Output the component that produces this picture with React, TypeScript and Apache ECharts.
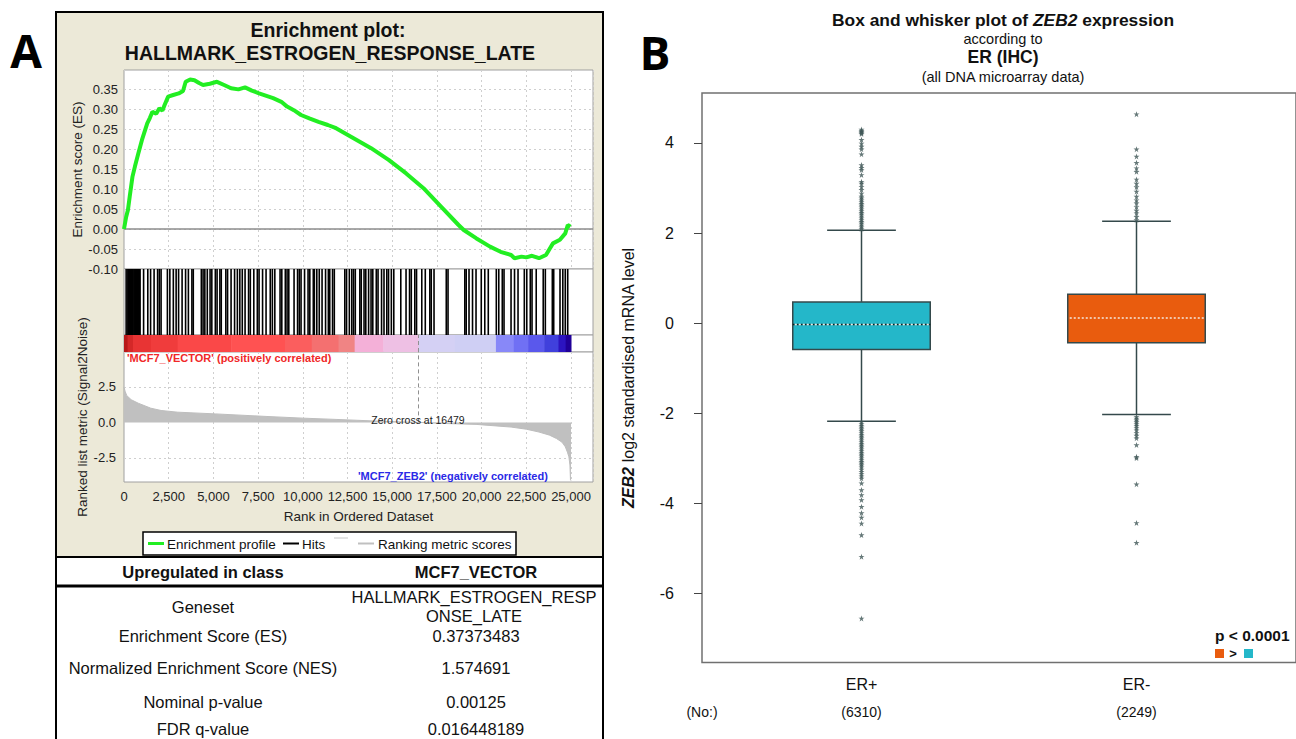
import { useEffect, useRef } from 'react';
import * as echarts from 'echarts';

const FONT = '"Liberation Sans", Arial, sans-serif';

// ---------- Panel A: GSEA enrichment plot ----------
const esRanks = [0, 120, 220, 320, 475, 610, 800, 1000, 1300, 1450, 1590, 1800, 1980, 2150, 2270, 2470, 2750, 3060, 3300, 3450, 3700, 3940, 4200, 4420, 4800, 5200, 5600, 5990, 6400, 6770, 7150, 7550, 8340, 8800, 9120, 9500, 9900, 10400, 10880, 11400, 11860, 12840, 13820, 14800, 15780, 16750, 17730, 18710, 19000, 19690, 20470, 21060, 21650, 21840, 22230, 22500, 22820, 23210, 23600, 23800, 23990, 24380, 24680, 24820, 24970];
const esValues = [0, 0.03, 0.0475, 0.081, 0.131, 0.156, 0.189, 0.222, 0.264, 0.278, 0.293, 0.288, 0.302, 0.296, 0.31, 0.331, 0.335, 0.339, 0.345, 0.368, 0.3737, 0.372, 0.365, 0.36, 0.363, 0.368, 0.36, 0.352, 0.349, 0.354, 0.346, 0.339, 0.327, 0.318, 0.306, 0.297, 0.285, 0.276, 0.268, 0.26, 0.252, 0.227, 0.202, 0.173, 0.139, 0.102, 0.056, 0.01, -0.0025, -0.023, -0.044, -0.057, -0.065, -0.073, -0.069, -0.071, -0.067, -0.073, -0.065, -0.05, -0.036, -0.027, -0.011, 0.01, 0.006];
const hitRanks = [120, 215, 260, 313, 360, 411, 460, 509, 560, 607, 650, 705, 750, 802, 850, 900, 1096, 1331, 1487, 1683, 1879, 1977, 2074, 2427, 2564, 2759, 2916, 3053, 3249, 3444, 3601, 3797, 3875, 4325, 4423, 4521, 4658, 4814, 4912, 5108, 5206, 5362, 5440, 5695, 5793, 5988, 6184, 6341, 6478, 6615, 6771, 6967, 7065, 7260, 7456, 7554, 7750, 7945, 8180, 8298, 8435, 8728, 8826, 9022, 9120, 9217, 9511, 9707, 9805, 9902, 10098, 10294, 10392, 10587, 10646, 10783, 10920, 11077, 11273, 11429, 11507, 11664, 11762, 12349, 12447, 12603, 12740, 12838, 12936, 13190, 13268, 13425, 13523, 13680, 13817, 13915, 14110, 14208, 14404, 14541, 14697, 14795, 14952, 15089, 15480, 15774, 15970, 16067, 16263, 16361, 16654, 16850, 17104, 17183, 17339, 18024, 18122, 19061, 19140, 19296, 19492, 19688, 19981, 20177, 20373, 20823, 20960, 21156, 21254, 21646, 21841, 22037, 22389, 22526, 22722, 22820, 23055, 23446, 23564, 23955, 24033, 24385, 24542, 24679, 24816];
const metricRanks = [0, 60, 150, 400, 800, 1500, 2074, 3000, 5100, 7945, 10000, 11860, 14000, 15770, 16479, 18000, 19690, 21650, 22500, 23210, 23800, 24190, 24500, 24680, 24800, 24880, 24940, 24970, 25000];
const metricValues = [2.5, 2.2, 1.9, 1.6, 1.35, 1.0, 0.84, 0.72, 0.6, 0.42, 0.3, 0.21, 0.1, 0.02, 0, -0.08, -0.14, -0.33, -0.48, -0.68, -0.9, -1.14, -1.4, -1.72, -2.1, -2.42, -3.0, -4.05, -4.1];
const colorBandEdges = [0, 200, 500, 1500, 3000, 6000, 9000, 10500, 12000, 12900, 14500, 16479, 18500, 20800, 21800, 22600, 23500, 24300, 24700, 25000];
const colorBandPalette = ['#b81818', '#d42828', '#e83434', '#f03c3c', '#fa4848', '#ff5252', '#fb5e5e', '#f47070', '#f08484', '#f4b0d8', '#eec0e4', '#d4d0f4', '#cfcff4', '#8888f8', '#7070f4', '#5a58ec', '#4040dc', '#2c14c0', '#200098'];
const zeroCross = 16479;
const rankMax = 26230;
const esMin = -0.1;
const esMax = 0.3975;
const metricMin = -4.2;
const metricMax = 4.96;
const metricTicks = [-2.5, 0, 2.5];

const tableHeader = ['Upregulated in class', 'MCF7_VECTOR'];
const tableRowLabels = ['Enrichment Score (ES)', 'Normalized Enrichment Score (NES)', 'Nominal p-value', 'FDR q-value'];
const tableRowValues = ['0.37373483', '1.574691', '0.00125', '0.016448189'];
const genesetName = ['HALLMARK_ESTROGEN_RESP', 'ONSE_LATE'];

// ---------- Panel B: box plot ----------
const groups = ['ER+', 'ER-'];
const groupCounts = [6310, 2249];
// [lower whisker, Q1, median, Q3, upper whisker]
const boxStats = [
  [-2.18, -0.59, -0.03, 0.47, 2.06],
  [-2.03, -0.44, 0.11, 0.64, 2.26],
];
const boxColors = ['#24b7c9', '#e95c0e'];
const outliersERpos = [4.3, 4.27, 4.25, 4.22, 4.2, 4.07, 3.99, 3.92, 3.86, 3.75, 3.51, 3.45, 3.4, 3.29, 3.14, 3.1, 3.03, 2.96, 2.88, 2.81, 2.77, 2.73, 2.69, 2.65, 2.61, 2.57, 2.53, 2.49, 2.45, 2.41, 2.37, 2.33, 2.29, 2.25, 2.21, 2.17, 2.13, 2.09,
  -2.2, -2.24, -2.28, -2.32, -2.36, -2.4, -2.44, -2.48, -2.52, -2.56, -2.6, -2.64, -2.68, -2.72, -2.76, -2.8, -2.84, -2.88, -2.92, -2.96, -3.0, -3.04, -3.08, -3.12, -3.16, -3.2, -3.25, -3.3, -3.35, -3.4, -3.45, -3.56, -3.71, -3.82, -3.93, -4.08, -4.22, -4.32, -4.45, -4.71, -5.19, -6.56];
const outliersERneg = [4.64, 3.86, 3.7, 3.56, 3.44, 3.36, 3.19, 3.1, 3.02, 2.92, 2.81, 2.73, 2.66, 2.58, 2.5, 2.44, 2.36, 2.29,
  -2.08, -2.12, -2.16, -2.2, -2.24, -2.28, -2.33, -2.38, -2.44, -2.5, -2.56, -2.71, -2.97, -3.0, -3.58, -4.44, -4.88];
const boxYTicks = [-6, -4, -2, 0, 2, 4];
const boxYMin = -7.54;
const boxYMax = 5.11;

const STAR = 'path://M5,0 L6.2,3.6 L10,3.6 L6.9,5.8 L8.1,9.5 L5,7.2 L1.9,9.5 L3.1,5.8 L0,3.6 L3.8,3.6 Z';

function txt(text: string, x: number, y: number, o: any = {}) {
  return {
    type: 'text', x, y, z: 50, silent: true, rotation: o.rotation || 0,
    style: {
      text, fontFamily: o.family || FONT, fontSize: o.size || 13,
      fontWeight: o.bold ? 'bold' : 'normal', fontStyle: o.italic ? 'italic' : 'normal',
      fill: o.color || '#111', align: o.align || 'center', verticalAlign: 'middle',
      rich: o.rich,
    },
  };
}
function seg(x1: number, y1: number, x2: number, y2: number, stroke: string, lineWidth: number, z = 50) {
  return { type: 'line', z, silent: true, shape: { x1, y1, x2, y2 }, style: { stroke, lineWidth } };
}

const fmtRank = (v: number) => (Math.abs(v % 2500) < 1e-6 && v <= 25000 ? v.toLocaleString('en-US') : '');
const fmtES = (v: number) => {
  const k = Math.round(v / 0.05);
  return Math.abs(v - k * 0.05) < 1e-6 ? (k * 0.05).toFixed(2) : '';
};

export default function App() {
  const ref = useRef<HTMLDivElement>(null);
  useEffect(() => {
    if (!ref.current) return;
    const chart = echarts.init(ref.current, null, { renderer: 'svg' });

    const gsGrid = (top: number, height: number) => ({
      left: 124, top, width: 469, height, show: true, backgroundColor: '#ffffff', borderColor: '#a0a0a0', borderWidth: 1,
    });
    const rankAxis = (gi: number, labels: boolean, split: boolean) => ({
      type: 'value', gridIndex: gi, min: 0, max: rankMax, interval: 2500,
      axisLine: { show: false }, axisTick: { show: false },
      axisLabel: { show: labels, formatter: fmtRank, color: '#222', fontSize: 13, fontFamily: FONT, margin: 8 },
      splitLine: { show: split, lineStyle: { type: [2, 3], color: '#cfcfcf', width: 1 } },
      name: labels ? 'Rank in Ordered Dataset' : '', nameLocation: 'middle', nameGap: 27,
      nameTextStyle: { color: '#222', fontSize: 13.5, fontFamily: FONT },
    });

    const legendItems: any[] = [
      { type: 'rect', z: 40, silent: true, shape: { x: 143, y: 532, width: 373, height: 23 }, style: { fill: '#ffffff', stroke: '#000', lineWidth: 1.5 } },
      seg(148, 543.5, 164, 543.5, '#22ee22', 3),
      txt('Enrichment profile', 167, 544, { size: 13.5, align: 'left' }),
      seg(283, 543.5, 299, 543.5, '#000', 2),
      txt('Hits', 302, 544, { size: 13.5, align: 'left' }),
      seg(334, 538, 348, 538, '#c8c8c8', 1),
      seg(358, 543.5, 374, 543.5, '#c0c0c0', 2),
      txt('Ranking metric scores', 378, 544, { size: 13.5, align: 'left' }),
    ];

    const tableEls: any[] = [
      { type: 'rect', z: 20, silent: true, shape: { x: 56, y: 557, width: 547, height: 200 }, style: { fill: '#ffffff', stroke: '#000', lineWidth: 2 } },
      seg(56, 586, 603, 586, '#000', 3),
      txt(tableHeader[0], 203, 572, { size: 16.5, bold: true }),
      txt(tableHeader[1], 476, 572, { size: 16.5, bold: true }),
      txt('Geneset', 203, 607, { size: 16.5 }),
      txt(genesetName[0], 474, 597, { size: 16.5 }),
      txt(genesetName[1], 474, 616, { size: 16.5 }),
    ];
    const rowY = [636, 668, 702, 729];
    tableRowLabels.forEach((l, i) => {
      tableEls.push(txt(l, 203, rowY[i], { size: 16.5 }));
      tableEls.push(txt(tableRowValues[i], 476, rowY[i], { size: 16.5 }));
    });

    const graphic: any[] = [
      { type: 'rect', z: -10, silent: true, shape: { x: 56, y: 12, width: 547, height: 545 }, style: { fill: '#ece9d8', stroke: '#000', lineWidth: 2 } },
      txt('A', 26, 50, { size: 46, bold: true, family: '"Open Sans", sans-serif', color: '#000' }),
      txt('B', 655, 52, { size: 46, bold: true, family: '"Open Sans", sans-serif', color: '#000' }),
      txt('Enrichment plot:', 328, 30, { size: 19.5, bold: true }),
      txt('HALLMARK_ESTROGEN_RESPONSE_LATE', 330, 53, { size: 19.5, bold: true }),
      txt("'MCF7_VECTOR' (positively correlated)", 127, 358, { size: 11, bold: true, color: '#f02828', align: 'left' }),
      txt("'MCF7_ZEB2' (negatively correlated)", 358, 476, { size: 11, bold: true, color: '#2a2ae6', align: 'left' }),
      txt('Zero cross at ' + zeroCross, 418, 419.5, { size: 10.5, color: '#222' }),
      ...legendItems,
      ...tableEls,
      // Panel B titles
      txt('{n|Box and whisker plot of }{i|ZEB2}{n| expression}', 1003, 20, {
        size: 17.4, bold: true,
        rich: {
          n: { fontSize: 17.4, fontWeight: 'bold', fontFamily: FONT, fill: '#111' },
          i: { fontSize: 17.4, fontWeight: 'bold', fontStyle: 'italic', fontFamily: FONT, fill: '#111' },
        },
      }),
      txt('according to', 1003, 39, { size: 14.5 }),
      txt('ER (IHC)', 1003, 57, { size: 17.5, bold: true }),
      txt('(all DNA microarray data)', 1003, 77, { size: 14.5 }),
      txt('(No:)', 702, 712, { size: 14 }),
      txt('p < 0.0001', 1215, 635, { size: 15.5, bold: true, align: 'left' }),
      { type: 'rect', z: 50, silent: true, shape: { x: 1215, y: 649, width: 9, height: 9 }, style: { fill: boxColors[1] } },
      txt('>', 1233, 653.5, { size: 13, bold: true }),
      { type: 'rect', z: 50, silent: true, shape: { x: 1244, y: 649, width: 9, height: 9 }, style: { fill: boxColors[0] } },
    ];

    const option: any = {
      animation: false,
      backgroundColor: '#ffffff',
      grid: [
        gsGrid(70, 199),
        gsGrid(269, 66),
        gsGrid(335, 17),
        gsGrid(352, 130),
        { left: 702, top: 93, width: 602, height: 569.5, show: true, backgroundColor: '#ffffff', borderColor: '#707070', borderWidth: 1.5 },
      ],
      xAxis: [
        rankAxis(0, false, true),
        rankAxis(1, false, false),
        rankAxis(2, false, false),
        rankAxis(3, true, true),
        {
          type: 'value', gridIndex: 4, min: 0.42, max: 2.58,
          axisLine: { show: false }, splitLine: { show: false },
          axisTick: { show: true, customValues: [1, 2], length: 8, lineStyle: { color: '#444', width: 1 } },
          axisLabel: {
            customValues: [1, 2], margin: 10,
            formatter: (v: number) => {
              const i = Math.round(v) - 1;
              return `{c|${groups[i]}}\n{n|(${groupCounts[i]})}`;
            },
            rich: {
              c: { fontSize: 16, lineHeight: 24, fontFamily: FONT, color: '#111' },
              n: { fontSize: 14, lineHeight: 30, fontFamily: FONT, color: '#111' },
            },
          },
        },
      ],
      yAxis: [
        {
          type: 'value', gridIndex: 0, min: esMin, max: esMax, interval: 0.05,
          axisLine: { show: false }, axisTick: { show: false },
          axisLabel: { formatter: fmtES, color: '#222', fontSize: 13, fontFamily: FONT, margin: 6 },
          splitLine: { show: true, lineStyle: { type: [2, 3], color: '#cfcfcf' } },
          name: 'Enrichment score (ES)', nameLocation: 'middle', nameGap: 37,
          nameTextStyle: { color: '#222', fontSize: 13.5, fontFamily: FONT },
        },
        { type: 'value', gridIndex: 1, min: 0, max: 1, show: false },
        { type: 'value', gridIndex: 2, min: 0, max: 1, show: false },
        {
          type: 'value', gridIndex: 3, min: metricMin, max: metricMax,
          axisLine: { show: false }, axisTick: { show: false }, splitLine: { show: false },
          axisLabel: { customValues: metricTicks, formatter: (v: number) => v.toFixed(1), color: '#222', fontSize: 13, fontFamily: FONT, margin: 8 },
          name: 'Ranked list metric (Signal2Noise)', nameLocation: 'middle', nameGap: 32,
          nameTextStyle: { color: '#222', fontSize: 13.5, fontFamily: FONT },
        },
        {
          type: 'value', gridIndex: 4, min: boxYMin, max: boxYMax,
          axisLine: { show: false }, splitLine: { show: false },
          axisTick: { show: true, customValues: boxYTicks, length: 8, lineStyle: { color: '#444' } },
          axisLabel: { customValues: boxYTicks, color: '#111', fontSize: 16, fontFamily: FONT, margin: 28 },
          name: '{b|ZEB2} log2 standardised mRNA level', nameLocation: 'middle', nameGap: 66, nameRotate: 90,
          nameTextStyle: {
            fontSize: 16, color: '#111', fontFamily: FONT,
            rich: { b: { fontSize: 16, fontWeight: 'bold', fontStyle: 'italic', color: '#111', fontFamily: FONT } },
          },
        },
      ],
      graphic,
      series: [
        {
          type: 'line', xAxisIndex: 0, yAxisIndex: 0, z: 5,
          data: esRanks.map((r, i) => [r, esValues[i]]),
          showSymbol: false, lineStyle: { color: '#22ee22', width: 4 }, itemStyle: { color: '#22ee22' },
          markLine: {
            silent: true, symbol: 'none', label: { show: false }, z: 2,
            lineStyle: { color: '#8c8c8c', width: 1.5, type: 'solid' },
            data: [{ yAxis: 0 }],
          },
        },
        {
          type: 'custom', xAxisIndex: 1, yAxisIndex: 1, silent: true,
          data: hitRanks.map((r) => [r, 1]),
          encode: { x: 0, y: 1 },
          renderItem: (_p: any, api: any) => {
            const a = api.coord([api.value(0), 0]);
            const b = api.coord([api.value(0), 1]);
            return { type: 'line', shape: { x1: a[0], y1: a[1], x2: b[0], y2: b[1] }, style: { stroke: '#000', lineWidth: 1.6 } };
          },
        },
        {
          type: 'custom', xAxisIndex: 2, yAxisIndex: 2, silent: true, z: 2,
          data: colorBandEdges.slice(0, -1).map((s, i) => [s, colorBandEdges[i + 1], i]),
          encode: { x: [0, 1] },
          renderItem: (p: any, api: any) => {
            const a = api.coord([api.value(0), 1]);
            const b = api.coord([api.value(1), 0]);
            return { type: 'rect', shape: { x: a[0], y: a[1], width: b[0] - a[0] + 0.5, height: b[1] - a[1] }, style: { fill: colorBandPalette[p.dataIndex] } };
          },
          markLine: {
            silent: true, symbol: 'none', label: { show: false },
            lineStyle: { color: '#909090', width: 1, type: [4, 3] },
            data: [{ xAxis: zeroCross }],
          },
        },
        {
          type: 'line', xAxisIndex: 3, yAxisIndex: 3, z: 3,
          data: metricRanks.map((r, i) => [r, metricValues[i]]),
          showSymbol: false, lineStyle: { color: '#bdbdbd', width: 1 },
          areaStyle: { color: '#c0c0c0', opacity: 1 },
          markLine: {
            silent: true, symbol: 'none', label: { show: false }, z: 1,
            data: [
              { yAxis: 2.5, lineStyle: { color: '#cfcfcf', width: 1, type: [2, 3] } },
              { yAxis: -2.5, lineStyle: { color: '#cfcfcf', width: 1, type: [2, 3] } },
              [
                { coord: [zeroCross, 0], lineStyle: { color: '#909090', width: 1, type: [4, 3] } },
                { coord: [zeroCross, metricMax] },
              ],
            ],
          },
        },
        {
          type: 'custom', xAxisIndex: 4, yAxisIndex: 4, silent: true, z: 3,
          data: boxStats.map((s, i) => [i + 1, ...s]),
          encode: { x: 0, y: [1, 2, 3, 4, 5] },
          renderItem: (p: any, api: any) => {
            const x = api.value(0);
            const lo = api.value(1), q1 = api.value(2), med = api.value(3), q3 = api.value(4), hi = api.value(5);
            const pt = (dx: number, v: number) => api.coord([x + dx, v]);
            const stroke = '#34494b';
            const ln = (a: number[], b: number[], st: any) => ({ type: 'line', shape: { x1: a[0], y1: a[1], x2: b[0], y2: b[1] }, style: st });
            const w = { stroke, lineWidth: 1.5 };
            const tl = pt(-0.25, q3);
            const br = pt(0.25, q1);
            const mL = pt(-0.25, med);
            const mR = pt(0.25, med);
            const children: any[] = [
              ln(pt(0, q3), pt(0, hi), w),
              ln(pt(0, q1), pt(0, lo), w),
              ln(pt(-0.125, hi), pt(0.125, hi), w),
              ln(pt(-0.125, lo), pt(0.125, lo), w),
              { type: 'rect', shape: { x: tl[0], y: tl[1], width: br[0] - tl[0], height: br[1] - tl[1] }, style: { fill: boxColors[p.dataIndex], stroke, lineWidth: 1.5 } },
            ];
            if (p.dataIndex === 0) children.push(ln(mL, mR, { stroke: '#102020', lineWidth: 1.5, lineDash: [2, 2] }));
            children.push(ln(mL, mR, { stroke: '#f4e8e0', lineWidth: 1.5, lineDash: [2, 2], lineDashOffset: 2 }));
            return { type: 'group', children };
          },
        },
        {
          type: 'scatter', xAxisIndex: 4, yAxisIndex: 4, silent: true, z: 4,
          symbol: STAR, symbolSize: 6,
          itemStyle: { color: '#3e5656' },
          data: [...outliersERpos.map((v) => [1, v]), ...outliersERneg.map((v) => [2, v])],
        },
      ],
    };
    chart.setOption(option);
    return () => chart.dispose();
  }, []);
  return <div ref={ref} style={{ position: 'absolute', left: 0, top: 0, width: 1296, height: 739 }} />;
}
